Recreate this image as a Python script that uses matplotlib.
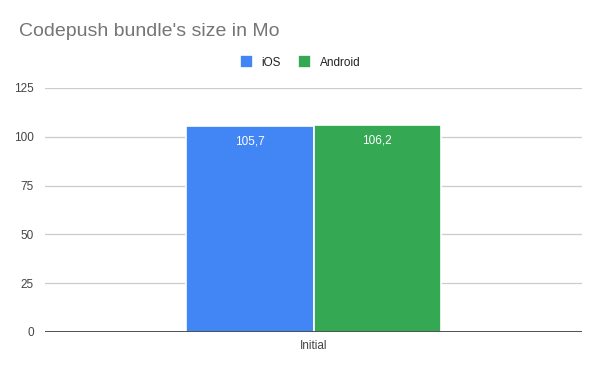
import matplotlib.pyplot as plt

plt.rcParams['font.family'] = ['Liberation Sans', 'DejaVu Sans']

categories = ['Initial']
series = ['iOS', 'Android']
values = [[105.7], [106.2]]
colors = ['#4285F4', '#34A853']
yticks = [0, 25, 50, 75, 100, 125]

fig = plt.figure(figsize=(6, 3.71), dpi=100)
ax = fig.add_axes([0.075, 39 / 371, 0.895, 244 / 371])

width = 0.2365
offsets = [-width / 2, width / 2]
for i, name in enumerate(series):
    xs = [j + offsets[i] for j in range(len(categories))]
    bars = ax.bar(xs, values[i], width=width, color=colors[i], label=name,
                  edgecolor='white', linewidth=1.2, zorder=3)
    for b, v in zip(bars, values[i]):
        ax.text(b.get_x() + b.get_width() / 2, v - 5, str(v).replace('.', ','),
                ha='center', va='top', color='white', fontsize=8.5, zorder=4)

ax.set_xlim(-0.5, len(categories) - 0.5)
ax.set_ylim(0, 125)
ax.set_yticks(yticks)
ax.set_xticks(range(len(categories)))
ax.set_xticklabels(categories)
ax.grid(axis='y', color='#cccccc', linewidth=0.9, zorder=0)
ax.axhline(0, color='#333333', linewidth=1.2, zorder=5)
for s in ax.spines.values():
    s.set_visible(False)
ax.tick_params(length=0, labelsize=8.5, labelcolor='#444444')
ax.tick_params(axis='y', pad=8)
ax.tick_params(axis='x', pad=6)

fig.text(19 / 600, 1 - 32 / 371, "Codepush bundle's size in Mo", fontsize=14,
         color='#757575', va='center', ha='left')
fig.legend(loc='center', bbox_to_anchor=(300 / 600, 1 - 62 / 371), ncol=2,
           frameon=False, fontsize=8.5, handlelength=1.15, handleheight=1.2,
           handletextpad=0.7, columnspacing=1.4, labelcolor='#222222')

fig.savefig('out.png', dpi=100)
